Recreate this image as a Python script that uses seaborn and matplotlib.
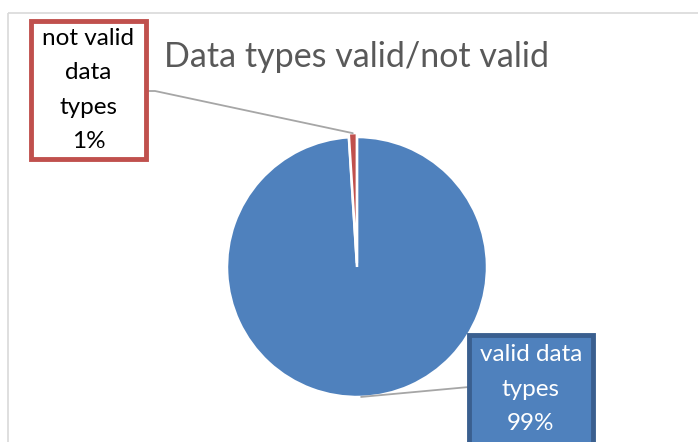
import numpy as np
import matplotlib
matplotlib.use("Agg")
import matplotlib.pyplot as plt
import seaborn as sns
from matplotlib.patches import Rectangle

# data
categories = ["valid data types", "not valid data types"]
shares = [99, 1]
pct_labels = ["99%", "1%"]
box_text = ["valid data\ntypes\n99%", "not valid\ndata\ntypes\n1%"]

sns.set_theme(style="white")
plt.rcParams["font.family"] = ["Lato", "DejaVu Sans"]

BLUE = "#4F81BD"
RED = "#C0504D"
W, H = 698, 442
fig = plt.figure(figsize=(W / 100, H / 100), dpi=100)
fig.patch.set_facecolor("white")

# pie axes, centre (357, 267) px, radius 130 px
cx, cy, rad = 357, 267, 130
ax = fig.add_axes([(cx - rad) / W, (H - cy - rad) / H, 2 * rad / W, 2 * rad / H])
wedges, _ = ax.pie(shares, colors=[BLUE, RED], startangle=90, counterclock=False,
                   explode=[0, 0.03], radius=1,
                   wedgeprops=dict(edgecolor="white", linewidth=1.8))
ax.set_xlim(-1, 1)
ax.set_ylim(-1, 1)
for w in wedges:
    w.set_clip_on(False)

# overlay in pixel coordinates
ov = fig.add_axes([0, 0, 1, 1], zorder=3)
ov.set_xlim(0, W)
ov.set_ylim(H, 0)
ov.axis("off")
ov.patch.set_alpha(0)

# chart frame
ov.plot([8, W], [13, 13], color="#D9D9D9", lw=1.2, solid_capstyle="butt")
ov.plot([8, 8], [13, H], color="#D9D9D9", lw=1.2, solid_capstyle="butt")

ov.text(357, 57, "Data types valid/not valid", ha="center", va="center",
        fontsize=24.5, color="#595959")


def tip(wedge, r=1.0):
    ang = np.deg2rad((wedge.theta1 + wedge.theta2) / 2)
    c = wedge.center
    p = ax.transData.transform((c[0] + r * np.cos(ang), c[1] + r * np.sin(ang)))
    return ov.transData.inverted().transform(p)


# label boxes (x0, y0, x1, y1) in px
boxes = [(469, 335, 593, 445), (31, 21, 146, 159)]
faces = [BLUE, "white"]
edges = ["#3A5F8F", RED]
txt_col = ["white", "black"]
anchors = [(469, 387), (146, 91)]

for i, w in enumerate(wedges):
    x0, y0, x1, y1 = boxes[i]
    ov.add_patch(Rectangle((x0, y0), x1 - x0, y1 - y0, facecolor=faces[i],
                           edgecolor=edges[i], lw=3.5, zorder=4))
    ov.text((x0 + x1) / 2, (y0 + y1) / 2 - (1 if i == 0 else 0), box_text[i],
            ha="center", va="center", fontsize=17.5, color=txt_col[i],
            linespacing=1.78, zorder=5)
    tx, ty = tip(w)
    ax_, ay_ = anchors[i]
    if i == 1:
        ov.plot([ax_, 155, tx], [ay_, ay_, ty], color="#A6A6A6", lw=1.3, zorder=3)
    else:
        ov.plot([ax_, tx], [ay_, ty], color="#A6A6A6", lw=1.3, zorder=3)

fig.savefig("out.png", dpi=100)
